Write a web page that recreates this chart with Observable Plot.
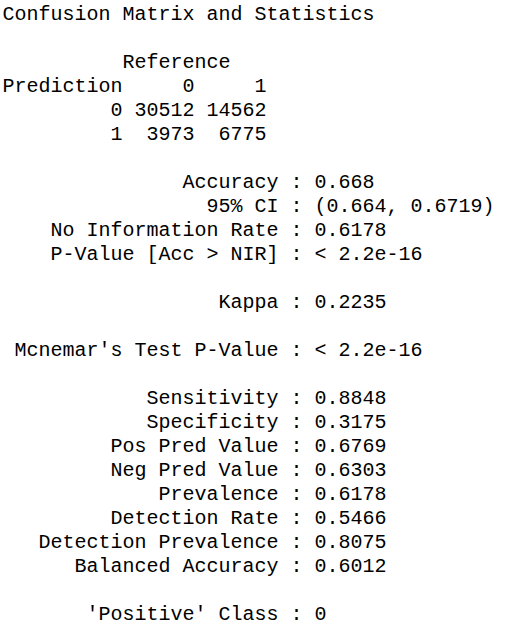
<!DOCTYPE html>
<html>
<head>
<meta charset="utf-8">
<script src="https://cdn.jsdelivr.net/npm/d3@7"></script>
<script src="https://cdn.jsdelivr.net/npm/@observablehq/plot@0.6"></script>
<style>body{margin:0;background:#fff}</style>
</head>
<body>
<div id="chart"></div>
<script>
// confusion matrix
const refClasses = ["0", "1"]
const matrix = [[30512, 14562], [3973, 6775]]

// statistics, grouped as in R output (null = blank line)
const statLabels = ["Accuracy", "95% CI", "No Information Rate", "P-Value [Acc > NIR]", null,
  "Kappa", null, "Mcnemar's Test P-Value", null,
  "Sensitivity", "Specificity", "Pos Pred Value", "Neg Pred Value", "Prevalence",
  "Detection Rate", "Detection Prevalence", "Balanced Accuracy", null, "'Positive' Class"]
const statValues = ["0.668", "(0.664, 0.6719)", "0.6178", "< 2.2e-16", null,
  "0.2235", null, "< 2.2e-16", null,
  "0.8848", "0.3175", "0.6769", "0.6303", "0.6178",
  "0.5466", "0.8075", "0.6012", null, "0"]

// armar las líneas de texto
const lines = [
  "Confusion Matrix and Statistics",
  "",
  "          Reference",
  "Prediction" + refClasses.map(c => c.padStart(6)).join(""),
  ...matrix.map((r, i) => refClasses[i].padStart(10) + r.map(v => String(v).padStart(6)).join("")),
  ""
]
statLabels.forEach((l, i) => lines.push(l == null ? "" : l.padStart(23) + " : " + statValues[i]))

// cada palabra con su columna
const tokens = []
lines.forEach((line, row) => {
  for (const m of line.matchAll(/\S+/g)) tokens.push({row, col: m.index, text: m[0]})
})
// recombine tokens separated by single spaces so they render as one string
const words = []
tokens.forEach(t => {
  const last = words[words.length - 1]
  if (last && last.row === t.row && last.col + last.text.length + 1 === t.col) last.text += " " + t.text
  else words.push({...t})
})

let chart = Plot.plot({
  width: 513,
  height: 627,
  marginLeft: 2,
  marginRight: 1,
  marginTop: 13,
  marginBottom: 14,
  x: {domain: [0, 42.5], axis: null},
  y: {domain: [0, 25], reverse: true, axis: null},
  style: {fontFamily: "Liberation Mono", fontSize: "20px", color: "#000", background: "#fff"},
  marks: [
    Plot.text(words, {x: "col", y: "row", text: "text", textAnchor: "start", fill: "#000",
      fontFamily: "Liberation Mono", fontSize: 20})
  ]
})

d3.select('#chart').append(() => chart)
</script>
</body>
</html>
